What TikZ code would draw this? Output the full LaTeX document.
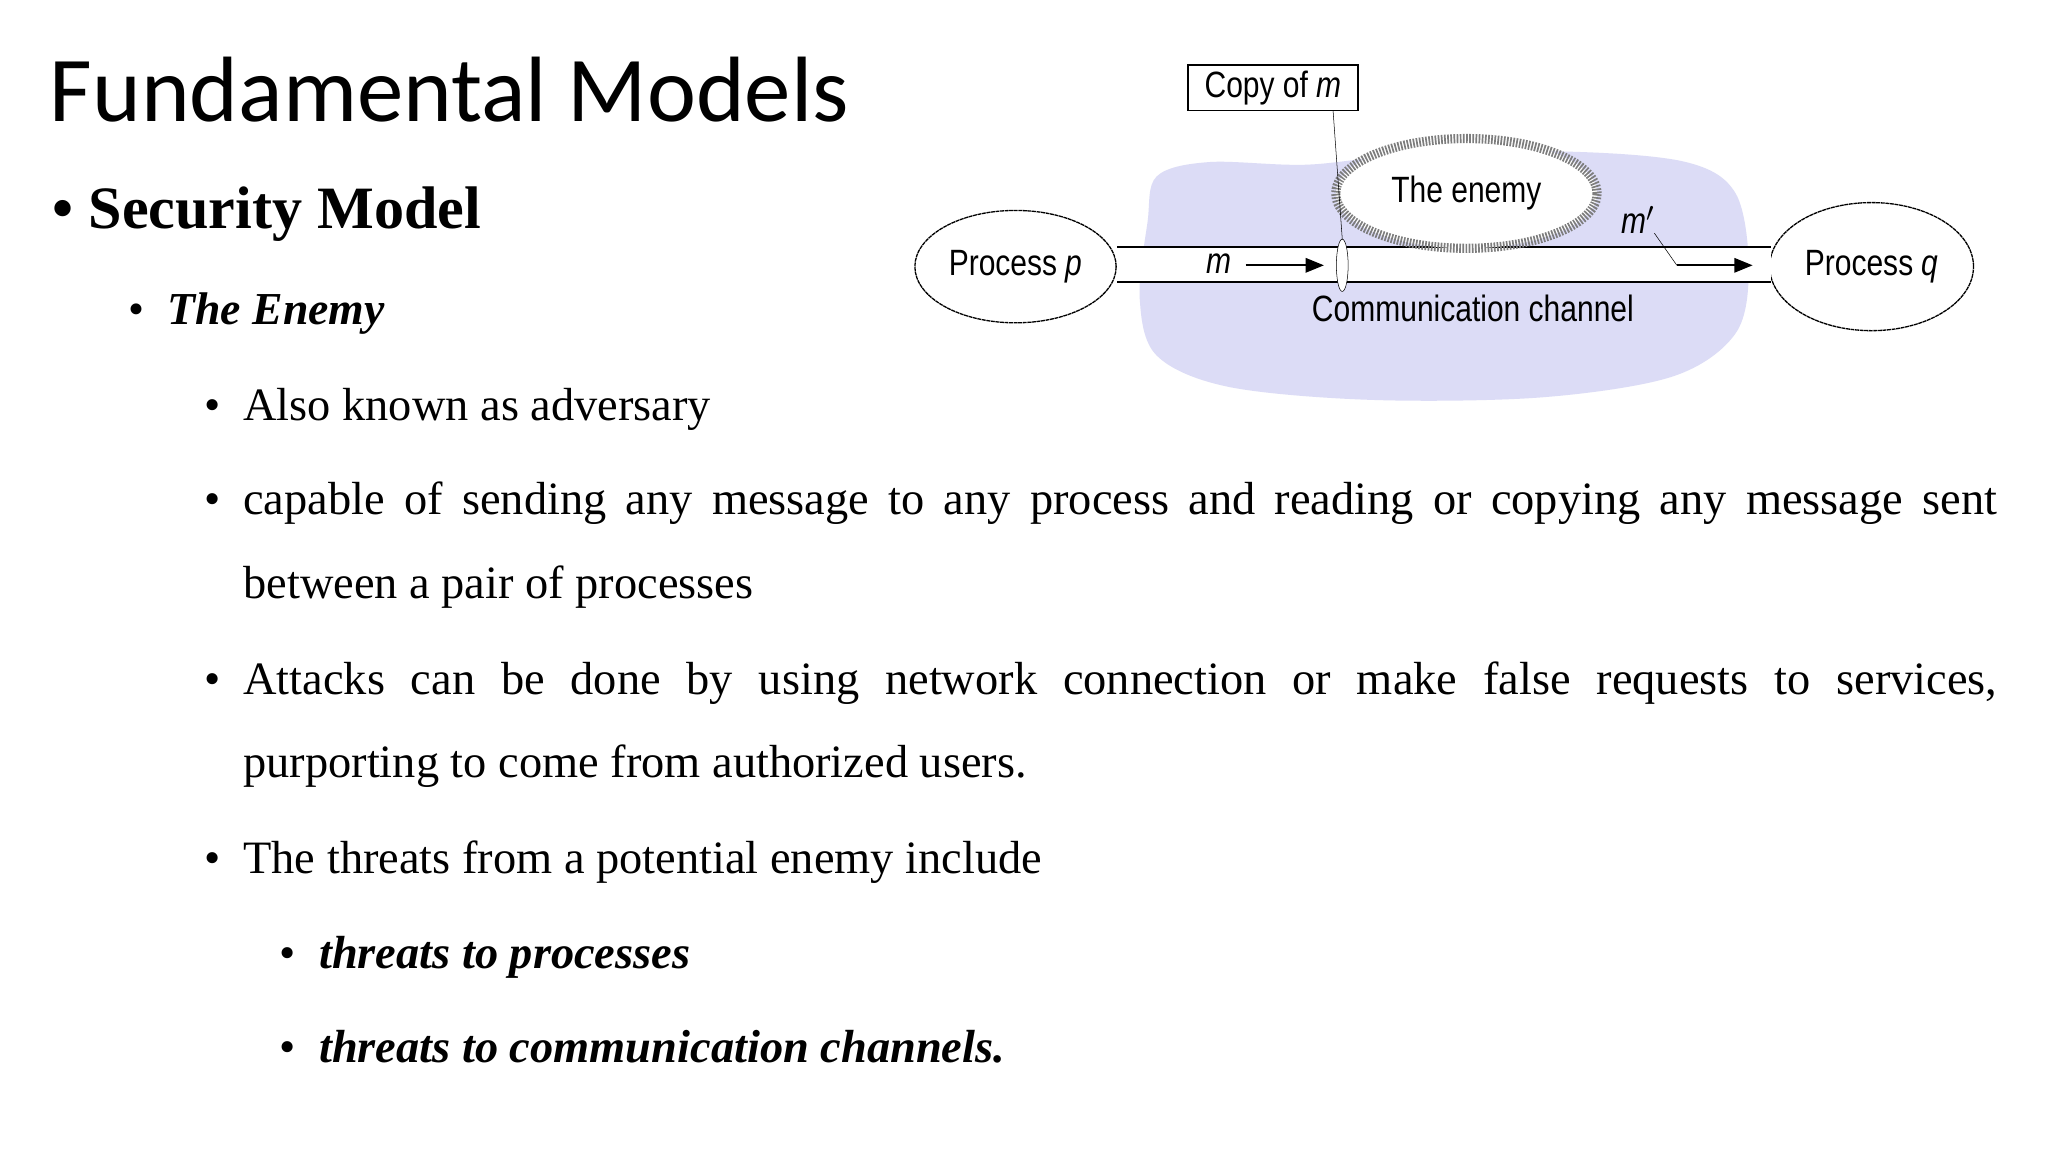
\documentclass[tikz,border=0pt]{standalone}
\usepackage{fontspec}
\setmainfont{Liberation Serif}
\newfontfamily\titlefont{Carlito}
\newfontfamily\diafont[FakeStretch=0.82]{Liberation Sans}
\definecolor{blob}{RGB}{220,220,246}
\definecolor{enemygray}{RGB}{125,125,125}
\tikzset{
  proc/.style={draw, ellipse, line width=1pt, dash pattern=on 3pt off 0.5pt, inner sep=0pt},
  line/.style={anchor=base west, inner sep=0pt, font=\fontsize{35.5}{40}\selectfont},
  dlabel/.style={font=\diafont\fontsize{28}{32}\selectfont, inner sep=0pt},
}
\usetikzlibrary{shapes.geometric,arrows.meta}
\begin{document}
\begin{tikzpicture}[x=1pt,y=-1pt]
\useasboundingbox[fill=white] (0,0) rectangle (1567,881.4);
% title
\node[anchor=base west, inner sep=0pt, font=\titlefont\fontsize{71}{76}\selectfont] (title) at (38,93) {Fundamental Models};
\node[anchor=base west, inner sep=0pt, font=\fontsize{46}{50}\selectfont\bfseries] (sm) at (40,175) {\textbullet\ Security Model};
\node[anchor=base west, inner sep=0pt, font=\fontsize{35}{40}\selectfont] (b2) at (98,248) {\textbullet};
\node[anchor=base west, inner sep=0pt, font=\fontsize{35}{40}\selectfont\bfseries\itshape] (en) at (128,248) {The Enemy};
% bullets
\foreach \y/\n in {322/a,394/b,531/c,668/d}{
  \node[line] (bul\n) at (156,\y) {\textbullet};
}
\foreach \y/\n in {741/e,813/f}{
  \node[line] (bul\n) at (214,\y) {\textbullet};
}
\node[line] (l1) at (186,322) {Also known as adversary};
\node[line] (l2) at (186,394) {\makebox[1342pt][s]{capable of sending any message to any process and reading or copying any message sent}};
\node[line] (l3) at (186,458) {between a pair of processes};
\node[line] (l4) at (186,531) {\makebox[1342pt][s]{Attacks can be done by using network connection or make false requests to services,}};
\node[line] (l5) at (186,595) {purporting to come from authorized users.};
\node[line] (l6) at (186,668) {The threats from a potential enemy include};
\node[line, font=\fontsize{35.5}{40}\selectfont\bfseries\itshape] (l7) at (244,741) {threats to processes};
\node[line, font=\fontsize{35.5}{40}\selectfont\bfseries\itshape] (l8) at (244,813) {threats to communication channels.};
% diagram
\fill[blob] plot[smooth cycle, tension=0.55] coordinates {(885,135) (925,124) (1000,126) (1080,118) (1200,116) (1290,124) (1328,148) (1338,205) (1328,255) (1280,288) (1180,304) (1050,306) (940,296) (885,272) (872,228) (878,170)};
\node[proc, minimum width=154pt, minimum height=86pt, fill=white] (p) at (777,204) {};
\node[dlabel] at (p) {Process \textit{p}};
\node[proc, minimum width=156pt, minimum height=98pt, fill=white] (q) at (1432,204) {};
\node[dlabel] at (q) {Process \textit{q}};
\coordinate (ct1) at (855,189); \coordinate (ct2) at (1355,189);
\coordinate (cb1) at (855,216); \coordinate (cb2) at (1355,216);
\fill[white] (ct1) rectangle (cb2);
\draw[line width=1.5pt] (ct1) -- (ct2);
\draw[line width=1.5pt] (cb1) -- (cb2);
\node[draw=enemygray, line width=7pt, dash pattern=on 1.3pt off 1.1pt, ellipse, fill=white, minimum width=200pt, minimum height=84pt, inner sep=0pt] (enemy) at (1122,148) {};
\node[dlabel] at (enemy) {The enemy};
\node[draw, fill=white, ellipse, thin, minimum width=9pt, minimum height=40pt, inner sep=0pt] (tap) at (1027,203) {};
\node[draw, line width=1.3pt, fill=white, minimum width=130pt, minimum height=35pt, inner sep=0pt, dlabel] (copy) at (974,67) {Copy of \textit{m}};
\coordinate (cbot) at (1020,85);
\draw[thin] (cbot) -- (tap.north);
\node[dlabel] (m) at (933,202) {\textit{m}};
\coordinate (ma) at (953,203); \coordinate (mb) at (1013,203);
\draw[line width=1.6pt, -{Triangle[length=14pt,width=11pt]}] (ma) -- (mb);
\node[dlabel] (mp) at (1253,168) {\textit{m}$'$};
\coordinate (mq1) at (1283,203); \coordinate (mq2) at (1341,203);
\draw[thin] (mp.south east) -- (mq1);
\draw[line width=1.6pt, -{Triangle[length=14pt,width=11pt]}] (mq1) -- (mq2);
\node[dlabel] (cc) at (1127,236) {Communication channel};
\end{tikzpicture}
\end{document}
